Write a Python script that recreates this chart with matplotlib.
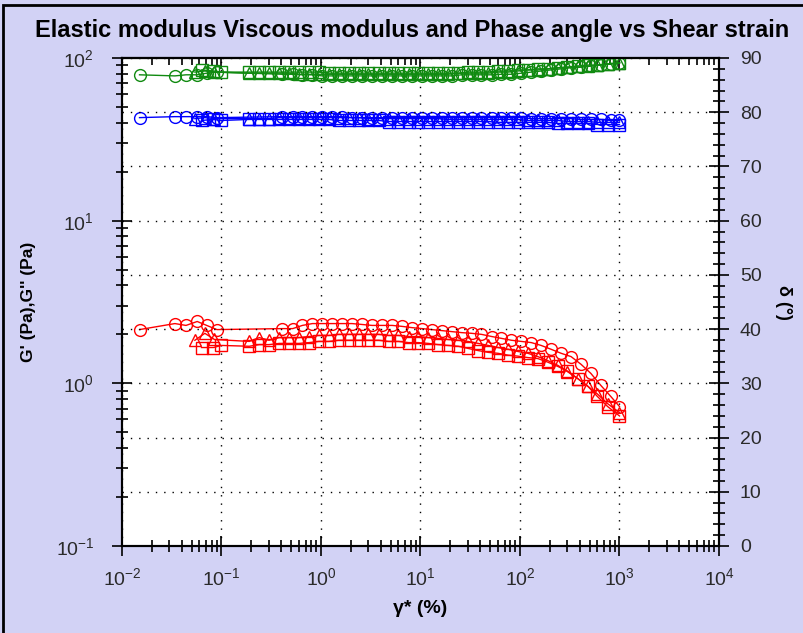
import matplotlib
matplotlib.use('Agg')
import matplotlib.pyplot as plt
from matplotlib.ticker import LogLocator, MultipleLocator, NullFormatter
from matplotlib.patches import Rectangle

plt.rcParams['font.family'] = ['Liberation Sans', 'DejaVu Sans']
plt.rcParams['mathtext.fontset'] = 'custom'
plt.rcParams['mathtext.rm'] = 'Liberation Sans'
plt.rcParams['mathtext.it'] = 'Liberation Sans:italic'
plt.rcParams['mathtext.bf'] = 'Liberation Sans:bold'

# ---------------- data ----------------
# strain (%) for the three runs
strain_circ = [0.015, 0.034, 0.044, 0.057, 0.071, 0.09,
               0.41, 0.52, 0.65, 0.82, 1.03, 1.3, 1.63, 2.05, 2.59, 3.26,
               4.1, 5.2, 6.5, 8.2, 10.3, 13, 16.3, 20.5, 25.9, 32.6,
               41, 52, 65, 82, 103, 130, 163, 205, 259, 326,
               410, 516, 650, 818, 1000]
strain_tri = [0.054, 0.068, 0.085,
              0.19, 0.24, 0.30, 0.38, 0.48, 0.60, 0.76, 0.95, 1.2, 1.5,
              1.9, 2.4, 3.0, 3.8, 4.8, 6.0, 7.6, 9.5, 12, 15,
              19, 24, 30, 38, 48, 60, 76, 95, 120, 151,
              190, 240, 300, 380, 480, 600, 760, 1000]
strain_sq = [0.063, 0.083, 0.1,
             0.19, 0.24, 0.30, 0.38, 0.48, 0.60, 0.76, 0.95, 1.2, 1.5,
             1.9, 2.4, 3.0, 3.8, 4.8, 6.0, 7.6, 9.5, 12, 15,
             19, 24, 30, 38, 48, 60, 76, 95, 120, 151,
             190, 240, 300, 380, 480, 600, 760, 1000]

# G' (Pa) - red
gp_circ = [2.14, 2.33, 2.27, 2.40, 2.27, 2.14,
           2.17, 2.17, 2.27, 2.33, 2.33, 2.33, 2.33, 2.33, 2.30, 2.27,
           2.27, 2.27, 2.24, 2.20, 2.17, 2.14, 2.11, 2.08, 2.05, 2.03,
           2.00, 1.94, 1.89, 1.84, 1.81, 1.78, 1.71, 1.62, 1.53, 1.46,
           1.31, 1.15, 0.97, 0.83, 0.72]
gp_tri = [1.84, 2.03, 1.86,
          1.81, 1.91, 1.84, 1.91, 1.91, 1.91, 1.94, 1.97, 1.97, 2.00,
          2.00, 2.00, 2.00, 2.00, 1.97, 1.97, 1.94, 1.94, 1.91, 1.89,
          1.86, 1.84, 1.81, 1.76, 1.71, 1.66, 1.62, 1.57, 1.53, 1.46,
          1.38, 1.29, 1.18, 1.07, 0.96, 0.86, 0.75, 0.66]
gp_sq = [1.66, 1.66, 1.71,
         1.69, 1.73, 1.73, 1.76, 1.76, 1.76, 1.78, 1.81, 1.81, 1.84,
         1.84, 1.84, 1.84, 1.84, 1.81, 1.81, 1.78, 1.78, 1.76, 1.73,
         1.71, 1.69, 1.64, 1.59, 1.55, 1.53, 1.49, 1.47, 1.44, 1.42,
         1.35, 1.27, 1.19, 1.07, 0.96, 0.83, 0.72, 0.63]

# G'' (Pa) - blue
gpp_circ = [43.0, 43.6, 43.6, 43.6, 43.6, 43.0,
            43.6, 43.6, 43.6, 43.6, 43.6, 43.6, 43.6, 43.0, 43.0, 43.0,
            43.0, 43.0, 43.0, 43.0, 43.0, 43.0, 43.0, 43.0, 43.0, 43.0,
            43.0, 43.0, 43.0, 43.0, 43.0, 42.4, 42.4, 42.4, 42.4, 42.4,
            41.9, 41.9, 41.9, 41.3, 41.3]
gpp_tri = [42.4, 43.0, 42.4,
           42.4, 42.4, 42.4, 43.0, 43.0, 43.0, 43.0, 43.0, 43.0, 43.0,
           43.0, 43.0, 42.4, 42.4, 42.4, 42.4, 42.4, 42.4, 42.4, 42.4,
           41.9, 41.9, 41.9, 41.9, 41.9, 41.9, 41.9, 41.9, 41.3, 41.3,
           41.3, 41.3, 40.7, 40.7, 40.7, 40.2, 40.2, 40.2]
gpp_sq = [41.3, 41.9, 41.3,
          41.9, 41.9, 41.9, 41.9, 41.9, 41.9, 41.9, 41.9, 41.9, 41.3,
          41.3, 41.3, 41.3, 41.3, 40.7, 40.7, 40.7, 40.7, 40.7, 40.7,
          40.7, 40.7, 40.7, 40.7, 40.7, 40.2, 40.2, 40.2, 40.2, 40.2,
          40.2, 39.6, 39.6, 39.6, 39.6, 39.0, 39.0, 39.0]

# phase angle (deg) - green
delta_circ = [86.9, 86.7, 86.9, 86.9, 87.2, 87.4,
              87.0, 87.0, 86.9, 86.9, 86.7, 86.7, 86.7, 86.7, 86.7, 86.7,
              86.7, 86.7, 86.7, 86.7, 86.7, 86.7, 86.7, 86.7, 86.9, 86.9,
              86.9, 86.9, 87.0, 87.0, 87.2, 87.4, 87.6, 87.8, 88.0, 88.2,
              88.3, 88.5, 88.7, 88.9, 89.1]
delta_tri = [87.4, 87.6, 87.4,
             87.2, 87.2, 87.2, 87.2, 87.2, 87.0, 87.0, 87.0, 87.0, 87.0,
             87.0, 87.0, 87.0, 87.0, 87.0, 87.0, 87.0, 87.0, 87.0, 87.0,
             87.0, 87.2, 87.2, 87.2, 87.2, 87.4, 87.4, 87.6, 87.8, 87.8,
             88.0, 88.2, 88.3, 88.5, 88.5, 88.7, 88.9, 89.1]
delta_sq = [87.8, 87.6, 87.4,
            87.4, 87.4, 87.4, 87.4, 87.4, 87.4, 87.4, 87.4, 87.2, 87.2,
            87.2, 87.2, 87.2, 87.2, 87.2, 87.2, 87.2, 87.2, 87.2, 87.2,
            87.2, 87.2, 87.4, 87.4, 87.4, 87.6, 87.6, 87.8, 87.8, 88.0,
            88.0, 88.2, 88.3, 88.5, 88.7, 88.7, 88.9, 89.1]

TITLE = 'Elastic modulus Viscous modulus and Phase angle vs Shear strain'
BG = '#d2d2f5'
LABEL_COL = '#2a2a2a'
RED, BLUE, GREEN = '#ff0000', '#0000ff', '#108a10'


def style_series(ax, x, y, color, marker):
    ax.plot(x, y, color=color, lw=1.0, marker=marker, ms=8.5,
            mfc='none', mec=color, mew=1.0)


def plot():
    fig = plt.figure(figsize=(8.04, 6.33), dpi=100, facecolor=BG)
    ax = fig.add_axes([122 / 804, 1 - 546 / 633, 597 / 804, 488 / 633])
    ax2 = ax.twinx()

    ax.set_xscale('log')
    ax.set_yscale('log')
    ax.set_xlim(1e-2, 1e4)
    ax.set_ylim(1e-1, 1e2)
    ax2.set_ylim(0, 90)

    # G' and G''
    for x, y, m in [(strain_circ, gp_circ, 'o'), (strain_tri, gp_tri, '^'),
                    (strain_sq, gp_sq, 's')]:
        style_series(ax, x, y, RED, m)
    for x, y, m in [(strain_circ, gpp_circ, 'o'), (strain_tri, gpp_tri, '^'),
                    (strain_sq, gpp_sq, 's')]:
        style_series(ax, x, y, BLUE, m)
    # phase angle
    for x, y, m in [(strain_circ, delta_circ, 'o'), (strain_tri, delta_tri, '^'),
                    (strain_sq, delta_sq, 's')]:
        style_series(ax2, x, y, GREEN, m)

    # ticks
    ax.xaxis.set_major_locator(LogLocator(base=10, numticks=10))
    ax.xaxis.set_minor_locator(LogLocator(base=10, subs=range(2, 10), numticks=20))
    ax.xaxis.set_minor_formatter(NullFormatter())
    ax.yaxis.set_major_locator(LogLocator(base=10, numticks=10))
    ax.yaxis.set_minor_locator(LogLocator(base=10, subs=range(2, 10), numticks=20))
    ax.yaxis.set_minor_formatter(NullFormatter())
    ax2.yaxis.set_major_locator(MultipleLocator(10))
    ax2.yaxis.set_minor_locator(MultipleLocator(2))

    ax.tick_params(which='both', direction='inout', right=False, top=False,
                   labelsize=14, labelcolor=LABEL_COL, width=1.2)
    ax.tick_params(axis='y', which='major', length=14, pad=13)
    ax.tick_params(axis='y', which='minor', length=8)
    ax.tick_params(axis='x', which='major', length=14, pad=8)
    ax.tick_params(axis='x', which='minor', length=8)
    ax2.tick_params(which='both', direction='inout', left=False,
                    labelsize=14, labelcolor=LABEL_COL, width=1.2)
    ax2.tick_params(which='major', length=14, pad=8)
    ax2.tick_params(which='minor', length=8)

    top = ax.secondary_xaxis('top')
    top.xaxis.set_major_locator(LogLocator(base=10, numticks=10))
    top.xaxis.set_minor_locator(LogLocator(base=10, subs=range(2, 10), numticks=20))
    top.tick_params(which='both', direction='in', labeltop=False, width=1.2)
    top.tick_params(which='major', length=8)
    top.tick_params(which='minor', length=5)
    top.spines['top'].set_linewidth(1.5)

    # dotted grid
    ax.grid(axis='x', which='major', color='black', ls=(0, (1, 5)), lw=1.0)
    ax2.grid(axis='y', which='major', color='black', ls=(0, (1, 5)), lw=1.0)

    for a in (ax, ax2):
        for s in a.spines.values():
            s.set_linewidth(1.5)

    ax.set_xlabel('γ* (%)', fontsize=14, fontweight='bold', labelpad=8)
    ax.set_ylabel("G' (Pa),G'' (Pa)", fontsize=12.5, fontweight='bold', labelpad=14)
    ax2.set_ylabel('δ (°)', fontsize=13, fontweight='bold', rotation=270, labelpad=22)

    fig.text(412 / 804, 1 - 31 / 633, TITLE, ha='center', va='center',
             fontsize=17, fontweight='bold')

    # outer frame
    fig.patches.append(Rectangle((3 / 804, -0.05), 1.2, 1 - 5 / 633 + 0.05,
                                 transform=fig.transFigure, fill=False,
                                 edgecolor='black', lw=2.0))

    fig.savefig('out.png', dpi=100, facecolor=BG)


if __name__ == '__main__':
    plot()
